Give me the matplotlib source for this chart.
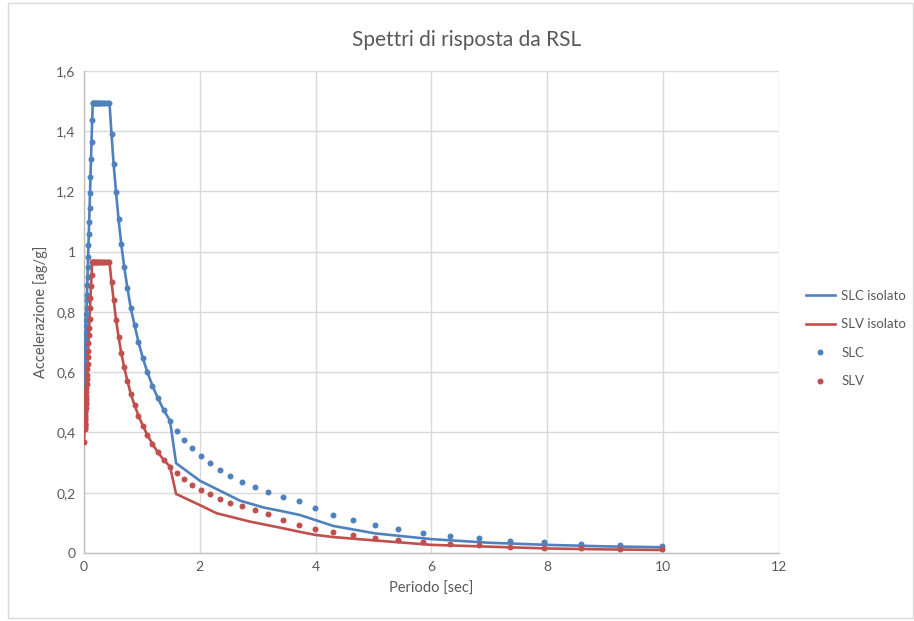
import matplotlib.pyplot as plt
from matplotlib.patches import Rectangle

# periodi (sec) dei punti dello spettro
periodi = [0, 0.010, 0.011, 0.012, 0.013, 0.014, 0.015, 0.017, 0.018, 0.019,
           0.021, 0.023, 0.024, 0.026, 0.029, 0.031, 0.033, 0.036, 0.039, 0.042,
           0.045, 0.049, 0.052, 0.057, 0.061, 0.066, 0.071, 0.077, 0.083, 0.089,
           0.096, 0.104, 0.112, 0.121, 0.130, 0.141, 0.152, 0.164, 0.177, 0.191,
           0.206, 0.222, 0.239, 0.258, 0.279, 0.301, 0.325, 0.350, 0.378, 0.408,
           0.440, 0.475, 0.512, 0.553, 0.596, 0.643, 0.694, 0.749, 0.808, 0.872,
           0.941, 1.015, 1.096, 1.182, 1.276, 1.376, 1.485, 1.61, 1.73, 1.87,
           2.016, 2.176, 2.344, 2.527, 2.729, 2.948, 3.178, 3.432, 3.708, 3.995,
           4.306, 4.646, 5.02, 5.418, 5.85, 6.316, 6.817, 7.352, 7.945, 8.579,
           9.257, 9.988]

slc = [0.52, 0.585, 0.592, 0.598, 0.605, 0.611, 0.618, 0.631, 0.637, 0.644,
       0.657, 0.670, 0.676, 0.689, 0.709, 0.722, 0.735, 0.754, 0.774, 0.793,
       0.813, 0.839, 0.858, 0.891, 0.917, 0.949, 0.982, 1.021, 1.060, 1.099,
       1.144, 1.196, 1.248, 1.307, 1.365, 1.437, 1.495, 1.495, 1.495, 1.495,
       1.495, 1.495, 1.495, 1.495, 1.495, 1.495, 1.495, 1.495, 1.495, 1.495,
       1.495, 1.39, 1.29, 1.198, 1.109, 1.026, 0.950, 0.880, 0.813, 0.757,
       0.700, 0.647, 0.600, 0.555, 0.514, 0.475, 0.439, 0.406, 0.375, 0.348,
       0.322, 0.299, 0.277, 0.255, 0.237, 0.218, 0.2025, 0.187, 0.174, 0.148,
       0.127, 0.1085, 0.093, 0.080, 0.067, 0.057, 0.049, 0.041, 0.0355, 0.030,
       0.0256, 0.022]

slv = [0.369, 0.412, 0.416, 0.420, 0.424, 0.429, 0.433, 0.441, 0.446, 0.450,
       0.458, 0.467, 0.471, 0.480, 0.493, 0.501, 0.510, 0.522, 0.535, 0.548,
       0.561, 0.578, 0.590, 0.612, 0.629, 0.650, 0.671, 0.697, 0.723, 0.748,
       0.778, 0.812, 0.846, 0.885, 0.923, 0.965, 0.965, 0.965, 0.965, 0.965,
       0.965, 0.965, 0.965, 0.965, 0.965, 0.965, 0.965, 0.965, 0.965, 0.965,
       0.965, 0.90, 0.84, 0.775, 0.718, 0.665, 0.616, 0.572, 0.528, 0.491,
       0.456, 0.423, 0.391, 0.362, 0.334, 0.309, 0.287, 0.267, 0.2456, 0.227,
       0.210, 0.195, 0.180, 0.167, 0.155, 0.143, 0.128, 0.1105, 0.094, 0.081,
       0.0687, 0.0588, 0.050, 0.042, 0.0355, 0.030, 0.0256, 0.021, 0.0177, 0.0155,
       0.013, 0.012]

# tratto isolato oltre il salto (fino a 1.485 coincide con lo spettro)
n_comune = 67
t_iso_coda = [1.59, 2.0, 2.69, 3.1, 3.44, 3.73, 4.0, 4.3, 5.03, 6.0, 7.0, 8.0, 9.0, 10.0]
slc_iso_coda = [0.298, 0.240, 0.174, 0.151, 0.138, 0.126, 0.109, 0.090, 0.065, 0.046,
                0.034, 0.027, 0.022, 0.019]
t_iso_coda_v = [1.59, 2.0, 2.29, 2.87, 3.44, 3.73, 4.0, 4.3, 5.0, 6.0, 7.0, 8.0, 9.0, 10.0]
slv_iso_coda = [0.196, 0.159, 0.132, 0.104, 0.082, 0.070, 0.060, 0.053, 0.042, 0.027,
                0.021, 0.015, 0.012, 0.010]

blu = '#4F81BD'
rosso = '#C0504D'
grigio = '#595959'

plt.rcParams['font.family'] = ['Lato', 'DejaVu Sans']

fig = plt.figure(figsize=(9.14, 6.21), dpi=100)
ax = fig.add_axes([0.0919, 0.1095, 0.7604, 0.7762])

ax.plot(periodi[:n_comune] + t_iso_coda, slc[:n_comune] + slc_iso_coda,
        color=blu, lw=1.9, label='SLC isolato', zorder=3)
ax.plot(periodi[:n_comune] + t_iso_coda_v, slv[:n_comune] + slv_iso_coda,
        color=rosso, lw=1.9, label='SLV isolato', zorder=3)
ax.plot(periodi, slc, 'o', color=blu, ms=4.3, mew=0, label='SLC', zorder=4)
ax.plot(periodi, slv, 'o', color=rosso, ms=4.3, mew=0, label='SLV', zorder=4)

ax.set_xlim(0, 12)
ax.set_ylim(0, 1.6)
ax.set_xticks(range(0, 13, 2))
yt = [0, 0.2, 0.4, 0.6, 0.8, 1, 1.2, 1.4, 1.6]
ax.set_yticks(yt)
ax.set_yticklabels(['0', '0,2', '0,4', '0,6', '0,8', '1', '1,2', '1,4', '1,6'])
ax.grid(True, color='#D9D9D9', lw=1)
ax.set_axisbelow(True)
for s in ['top', 'right']:
    ax.spines[s].set_visible(False)
for s in ['left', 'bottom']:
    ax.spines[s].set_color('#BFBFBF')
    ax.spines[s].set_linewidth(1)
ax.tick_params(length=0, labelsize=10, colors=grigio, pad=6)

ax.set_xlabel('Periodo [sec]', fontsize=10.5, color=grigio, labelpad=6)
ax.set_ylabel('Accelerazione [ag/g]', fontsize=10.5, color=grigio, labelpad=6)
fig.text(467 / 914, 1 - 40 / 621, 'Spettri di risposta da RSL', ha='center', va='center',
         fontsize=15, color=grigio)

ax.legend(loc='center left', bbox_to_anchor=(1.031, 0.445), frameon=False,
          fontsize=9.5, labelcolor=grigio, handlelength=2.2, handletextpad=0.5,
          labelspacing=1.25, borderaxespad=0, markerscale=1.0)

fig.patches.append(Rectangle((8 / 914, 0.005), 0.99, 0.99, transform=fig.transFigure,
                             fill=False, edgecolor='#D9D9D9', lw=1))

fig.savefig('out.png', dpi=100)
plt.close(fig)
